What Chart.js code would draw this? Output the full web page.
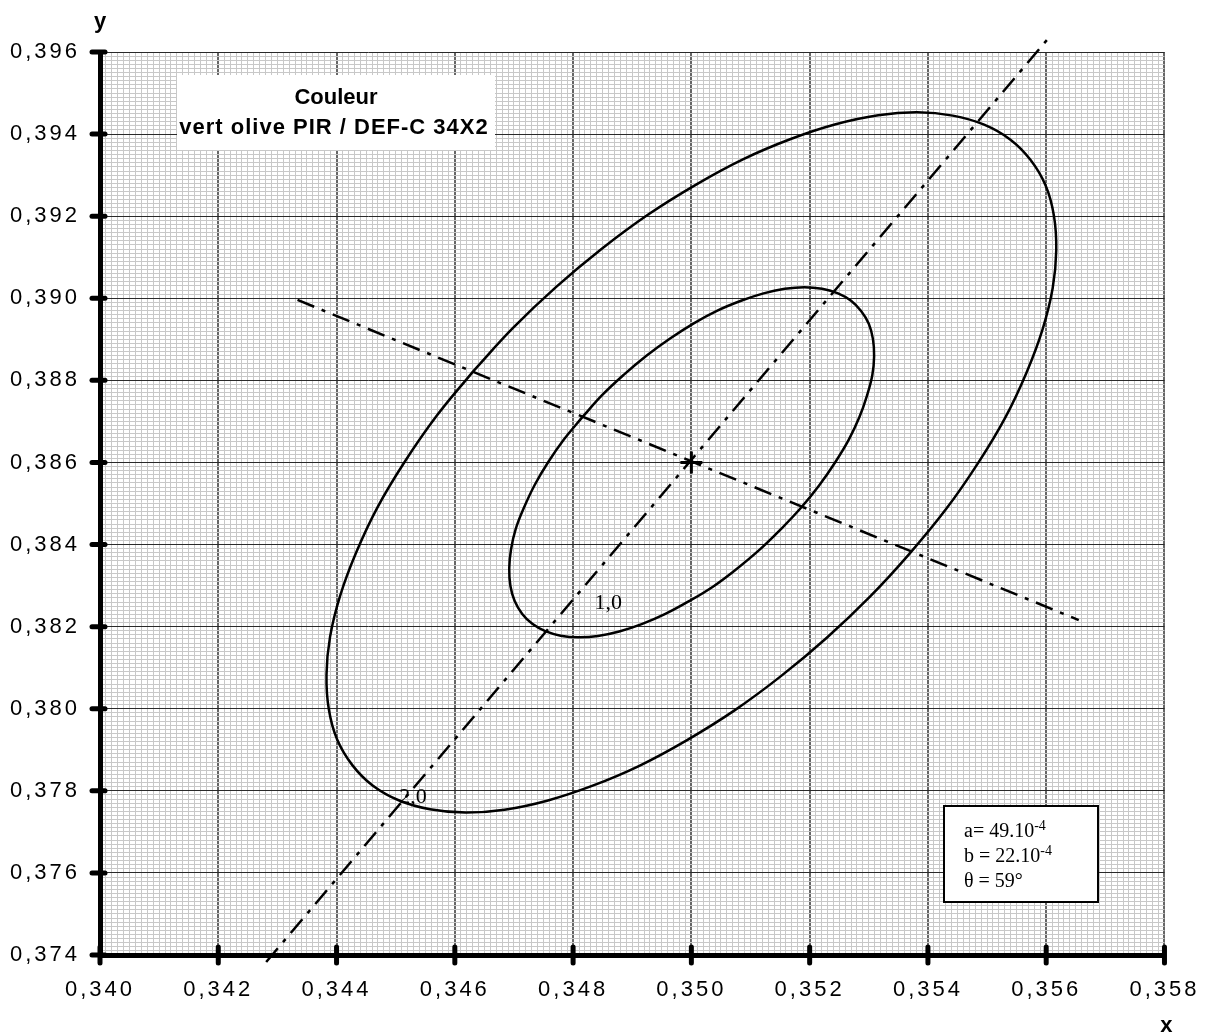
<!DOCTYPE html>
<html>
<head>
<meta charset="utf-8">
<script src="https://cdn.jsdelivr.net/npm/chart.js@4/dist/chart.umd.min.js"></script>
<style>
  html, body { margin: 0; padding: 0; background: #fff; }
</style>
</head>
<body>
<canvas id="chart_ellipse" width="1214" height="1036"></canvas>
<script>
// axis ranges
const xMin = 0.340, xMax = 0.358;
const yMin = 0.374, yMax = 0.396;
const majorStep = 0.002, minorStep = 0.0001;

// ellipse "2,0"
const outerX = [0.34631, 0.34569, 0.34515, 0.34469, 0.34433, 0.34406, 0.34389, 0.34383, 0.34387, 0.34401, 0.34427, 0.34461,
                0.34505, 0.34558, 0.34618, 0.34684, 0.34756, 0.34832, 0.34912, 0.34992, 0.35073, 0.35152, 0.35229, 0.35302,
                0.35369, 0.35431, 0.35485, 0.35531, 0.35567, 0.35594, 0.35611, 0.35617, 0.35613, 0.35599, 0.35573, 0.35539,
                0.35495, 0.35442, 0.35382, 0.35316, 0.35244, 0.35168, 0.35088, 0.35008, 0.34927, 0.34848, 0.34771, 0.34698,
                0.34631];
const outerY = [0.38822, 0.38713, 0.38601, 0.38490, 0.38380, 0.38275, 0.38175, 0.38083, 0.37998, 0.37925, 0.37862, 0.37813,
                0.37777, 0.37755, 0.37747, 0.37754, 0.37776, 0.37812, 0.37861, 0.37923, 0.37996, 0.38080, 0.38173, 0.38273,
                0.38378, 0.38487, 0.38599, 0.38710, 0.38820, 0.38925, 0.39025, 0.39117, 0.39202, 0.39275, 0.39338, 0.39387,
                0.39423, 0.39445, 0.39453, 0.39446, 0.39424, 0.39388, 0.39339, 0.39277, 0.39204, 0.39120, 0.39027, 0.38927,
                0.38822];

// ellipse "1,0"
const innerX = [0.34816, 0.34785, 0.34758, 0.34735, 0.34717, 0.34703, 0.34695, 0.34692, 0.34694, 0.34701, 0.34714, 0.34731,
                0.34753, 0.34779, 0.34809, 0.34842, 0.34878, 0.34916, 0.34956, 0.34996, 0.35037, 0.35076, 0.35115, 0.35151,
                0.35185, 0.35216, 0.35243, 0.35266, 0.35284, 0.35297, 0.35306, 0.35309, 0.35307, 0.35300, 0.35287, 0.35270,
                0.35248, 0.35221, 0.35191, 0.35158, 0.35122, 0.35084, 0.35044, 0.35004, 0.34964, 0.34924, 0.34886, 0.34849,
                0.34816];
const innerY = [0.38711, 0.38657, 0.38601, 0.38545, 0.38490, 0.38438, 0.38388, 0.38342, 0.38299, 0.38263, 0.38231, 0.38207,
                0.38189, 0.38178, 0.38174, 0.38177, 0.38188, 0.38206, 0.38231, 0.38262, 0.38298, 0.38340, 0.38387, 0.38437,
                0.38489, 0.38544, 0.38600, 0.38655, 0.38710, 0.38763, 0.38813, 0.38859, 0.38901, 0.38938, 0.38969, 0.38994,
                0.39012, 0.39023, 0.39027, 0.39023, 0.39012, 0.38994, 0.38970, 0.38939, 0.38902, 0.38860, 0.38814, 0.38764,
                0.38711];

// dash-dot axes of the ellipses
const majorAxisX = [0.34281, 0.35604];
const majorAxisY = [0.37383, 0.39634];
const minorAxisX = [0.34334, 0.35655];
const minorAxisY = [0.38996, 0.38216];
const centerX = [0.350];
const centerY = [0.386];

// curve labels
const curveLabels = ['1,0', '2,0'];
const curveLabelX = [0.34836, 0.34506];
const curveLabelY = [0.38243, 0.37771];

const titleLines = ['Couleur', 'vert olive PIR / DEF-C 34X2'];
const paramText = ['a= 49.10', 'b = 22.10', '\u03b8 = 59\u00b0'];
const paramSup = ['-4', '-4', ''];

const pts = (xs, ys) => xs.map((x, i) => ({x: x, y: ys[i]}));
const isMajor = v => Math.abs(v / majorStep - Math.round(v / majorStep)) < 1e-6;
const fmt = v => isMajor(v) ? v.toFixed(3).replace('.', ',') : '';

const decor = {
    id: 'decor',
    beforeDraw(chart) {
        // wide spacing of the tick labels
        chart.ctx.letterSpacing = '3px';
    },
    beforeDatasetsDraw(chart) {
        const ctx = chart.ctx, xs = chart.scales.x, ys = chart.scales.y;
        const a = chart.chartArea;
        ctx.letterSpacing = '0px';
        ctx.save();
        // thick tick marks
        ctx.strokeStyle = '#000';
        ctx.lineWidth = 5;
        ctx.lineCap = 'round';
        xs.ticks.forEach(t => {
            if (!isMajor(t.value)) return;
            const px = xs.getPixelForValue(t.value);
            ctx.beginPath(); ctx.moveTo(px, a.bottom - 8); ctx.lineTo(px, a.bottom + 8); ctx.stroke();
        });
        ys.ticks.forEach(t => {
            if (!isMajor(t.value)) return;
            const py = ys.getPixelForValue(t.value);
            ctx.beginPath(); ctx.moveTo(a.left - 8, py); ctx.lineTo(a.left + 5, py); ctx.stroke();
        });
        // title box
        ctx.fillStyle = '#fff';
        ctx.fillRect(177, 75, 318, 75);
        ctx.fillStyle = '#000';
        ctx.textAlign = 'center';
        ctx.textBaseline = 'alphabetic';
        ctx.font = 'bold 22px "Liberation Sans"';
        ctx.fillText(titleLines[0], 336, 104);
        ctx.letterSpacing = '1px';
        ctx.fillText(titleLines[1], 334, 134);
        ctx.letterSpacing = '0px';
        // parameter box
        ctx.fillStyle = '#fff';
        ctx.fillRect(944, 806, 154, 96);
        ctx.strokeStyle = '#000';
        ctx.lineWidth = 2;
        ctx.lineCap = 'butt';
        ctx.strokeRect(944, 806, 154, 96);
        ctx.fillStyle = '#000';
        ctx.textAlign = 'left';
        paramText.forEach((s, i) => {
            const by = 837 + i * 25;
            ctx.font = '20px "Liberation Serif"';
            ctx.fillText(s, 964, by);
            if (paramSup[i]) {
                const w = ctx.measureText(s).width;
                ctx.font = '14px "Liberation Serif"';
                ctx.fillText(paramSup[i], 964 + w, by - 7);
            }
        });
        ctx.restore();
    },
    afterDraw(chart) {
        const ctx = chart.ctx, xs = chart.scales.x, ys = chart.scales.y;
        const a = chart.chartArea;
        ctx.save();
        ctx.letterSpacing = '0px';
        ctx.fillStyle = '#000';
        ctx.textBaseline = 'alphabetic';
        ctx.textAlign = 'left';
        ctx.font = '22px "Liberation Serif"';
        curveLabels.forEach((s, i) => {
            ctx.fillText(s, xs.getPixelForValue(curveLabelX[i]), ys.getPixelForValue(curveLabelY[i]));
        });
        ctx.textAlign = 'center';
        ctx.font = 'bold 22px "Liberation Sans"';
        ctx.fillText('y', a.left, 28);
        ctx.fillText('x', a.right + 2, 1032);
        ctx.restore();
    }
};

const gridX = {
    drawTicks: false,
    color: c => (c.tick && isMajor(c.tick.value)) ? '#666' : '#c8c8c8',
    lineWidth: c => (c.tick && isMajor(c.tick.value)) ? 2 : 1
};
const gridY = {
    drawTicks: false,
    color: c => (c.tick && isMajor(c.tick.value)) ? '#2a2a2a' : '#c8c8c8',
    lineWidth: 1
};
const tickFont = {family: 'Liberation Sans', size: 22};

let ctx_ellipse = document.getElementById('chart_ellipse');
let chart_ellipse = new Chart(ctx_ellipse, {
    type: 'scatter',
    data: {
        datasets: [{
            label: '2,0',
            data: pts(outerX, outerY),
            showLine: true,
            borderColor: '#000',
            borderWidth: 2.5,
            pointRadius: 0,
            tension: 0.4
        }, {
            label: '1,0',
            data: pts(innerX, innerY),
            showLine: true,
            borderColor: '#000',
            borderWidth: 2.5,
            pointRadius: 0,
            tension: 0.4
        }, {
            label: 'axe a',
            data: pts(majorAxisX, majorAxisY),
            showLine: true,
            borderColor: '#000',
            borderWidth: 2.5,
            borderDash: [18, 8, 4, 8],
            pointRadius: 0,
            clip: false
        }, {
            label: 'axe b',
            data: pts(minorAxisX, minorAxisY),
            showLine: true,
            borderColor: '#000',
            borderWidth: 2.5,
            borderDash: [18, 8, 4, 8],
            pointRadius: 0,
            clip: false
        }, {
            label: 'centre',
            data: pts(centerX, centerY),
            pointStyle: 'cross',
            pointRadius: 11,
            borderColor: '#000',
            borderWidth: 3
        }]
    },
    options: {
        responsive: false,
        animation: false,
        devicePixelRatio: 1,
        layout: {
            padding: {top: 52, right: 46, left: 0, bottom: 0}
        },
        plugins: {
            legend: {display: false},
            tooltip: {enabled: false}
        },
        scales: {
            x: {
                type: 'linear',
                min: xMin,
                max: xMax,
                afterFit: s => { s.height = 81; },
                ticks: {
                    stepSize: minorStep,
                    autoSkip: false,
                    maxRotation: 0,
                    minRotation: 0,
                    padding: 22,
                    color: '#000',
                    font: tickFont,
                    callback: fmt
                },
                grid: gridX,
                border: {display: true, color: '#000', width: 5}
            },
            y: {
                type: 'linear',
                min: yMin,
                max: yMax,
                afterFit: s => { s.width = 100; },
                ticks: {
                    stepSize: minorStep,
                    autoSkip: false,
                    padding: 20,
                    color: '#000',
                    font: tickFont,
                    callback: fmt
                },
                grid: gridY,
                border: {display: true, color: '#000', width: 5}
            }
        }
    },
    plugins: [decor]
});
</script>
</body>
</html>
